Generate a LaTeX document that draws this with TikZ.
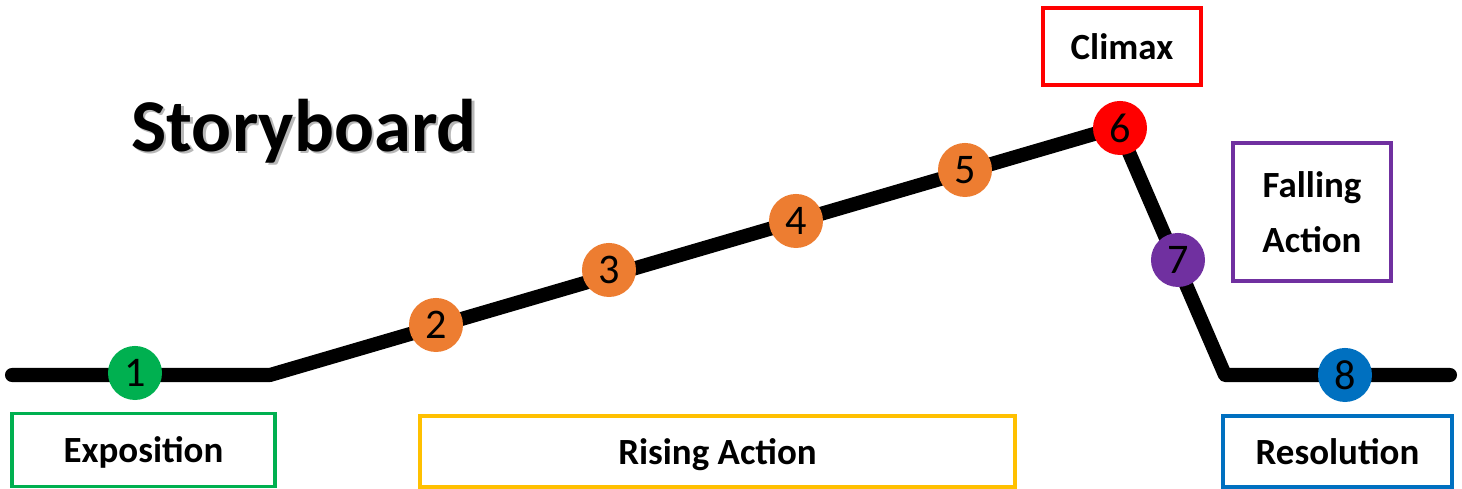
\documentclass[tikz,border=0pt]{standalone}
\usepackage{fontspec}
\setmainfont{Carlito}
\usetikzlibrary{positioning}
\definecolor{expo}{HTML}{00B050}
\definecolor{rise}{HTML}{ED7D31}
\definecolor{risebox}{HTML}{FFC000}
\definecolor{peak}{HTML}{FF0000}
\definecolor{fall}{HTML}{7030A0}
\definecolor{resol}{HTML}{0070C0}
\tikzset{
    dot/.style={circle,fill=#1,minimum size=0.54cm,inner sep=0pt,font=\fontsize{12}{12}\selectfont},
    stage/.style={draw=#1,line width=1.1pt,inner sep=0pt,align=center,text depth=0pt,font=\bfseries\fontsize{10.5}{13}\selectfont},
  }
\begin{document}
\begin{tikzpicture}[x=0.01cm,y=-0.01cm]
				  \useasboundingbox (0,0) rectangle (1462,489);
				  %TITLE
				  \node[text=black!28,font=\bfseries\fontsize{21.2}{24}\selectfont] at (306.5,133.5) {Storyboard};
				  \node[font=\bfseries\fontsize{21.2}{24}\selectfont] (title) at (304,131) {Storyboard};
				  %PLOT LINE
				  \coordinate (start) at (12,375);
				  \coordinate (bend1) at (270,375);
				  \coordinate (top) at (1118,127);
				  \coordinate (bend2) at (1225,375);
				  \coordinate (end) at (1450,375);
				  \draw[line width=4pt,line cap=round,line join=round] (start) -- (bend1) -- (top) -- (bend2) -- (end);
				  %EVENTS
				  \node[dot=expo] (e1) at (135,373) {1};
				  \node[dot=rise] (e2) at (436,325) {2};
				  \node[dot=rise] (e3) at (609,270) {3};
				  \node[dot=rise] (e4) at (796,221) {4};
				  \node[dot=rise] (e5) at (965,170) {5};
				  \node[dot=peak] (e6) at (1120,128) {6};
				  \node[dot=fall] (e7) at (1178,260) {7};
				  \node[dot=resol] (e8) at (1345,375) {8};
				  %STAGES
				  \node[stage=expo,minimum width=2.63cm,minimum height=0.73cm] (expo) at (143.5,450) {Exposition};
				  \node[stage=risebox,minimum width=5.95cm,minimum height=0.71cm] (rising) at (717.5,451.5) {Rising Action};
				  \node[stage=resol,minimum width=2.29cm,minimum height=0.71cm] (resolution) at (1337.5,451.5) {Resolution};
				  \node[stage=peak,minimum width=1.58cm,minimum height=0.77cm] (climax) at (1122,46.5) {Climax};
				  \node[stage=fall,minimum width=1.58cm,minimum height=1.38cm] (falling) at (1312,212) {Falling\\[0.25em]Action};
\end{tikzpicture}
\end{document}
